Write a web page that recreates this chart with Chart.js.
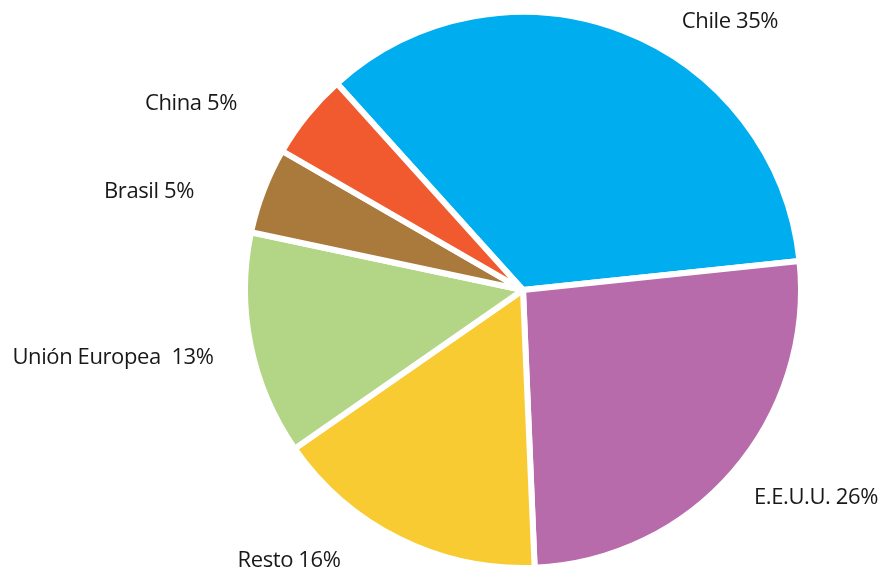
<!DOCTYPE html>
<html>
<head>
<meta charset="utf-8">
<script src="https://cdn.jsdelivr.net/npm/chart.js@4/dist/chart.umd.min.js"></script>
<style>
  html, body { margin: 0; padding: 0; background: #fff; }
  #wrap { width: 882px; height: 571px; }
</style>
</head>
<body>
<div id="wrap"><canvas id="pie" width="882" height="571"></canvas></div>
<script>
  const categories = ['Chile', 'E.E.U.U.', 'Resto', 'Unión Europea', 'Brasil', 'China'];
  const shares = [35, 26, 16, 13, 5, 5];
  const labelTexts = ['Chile 35%', 'E.E.U.U. 26%', 'Resto 16%', 'Unión Europea  13%', 'Brasil 5%', 'China 5%'];

  // Estilo
  const sliceColors = ['#00AEEF', '#B86BAB', '#F9CB33', '#B3D686', '#AA7A3C', '#F05A2E'];
  // Posición de cada etiqueta (centro del texto, px del canvas)
  const labelAnchors = [[730, 22], [816, 498], [289, 561], [113, 358], [149, 192], [191, 104]];

  const outsideLabels = {
    id: 'outsideLabels',
    afterDraw(chart) {
      const ctx = chart.ctx;
      ctx.save();
      ctx.font = '22px "Open Sans", sans-serif';
      ctx.letterSpacing = '-0.4px';
      ctx.fillStyle = '#1A1718';
      ctx.textAlign = 'center';
      ctx.textBaseline = 'middle';
      labelTexts.forEach((t, i) => {
        ctx.fillText(t, labelAnchors[i][0], labelAnchors[i][1]);
      });
      ctx.restore();
    }
  };

  new Chart(document.getElementById('pie'), {
    type: 'pie',
    data: {
      labels: categories,
      datasets: [{
        data: shares,
        backgroundColor: sliceColors,
        borderColor: '#FFFFFF',
        borderWidth: 6,
        hoverOffset: 0
      }]
    },
    options: {
      responsive: false,
      animation: false,
      rotation: -42,
      layout: { padding: { top: 9, bottom: 0, left: 242, right: 78 } },
      plugins: {
        legend: { display: false },
        tooltip: { enabled: false }
      }
    },
    plugins: [outsideLabels]
  });
</script>
</body>
</html>
